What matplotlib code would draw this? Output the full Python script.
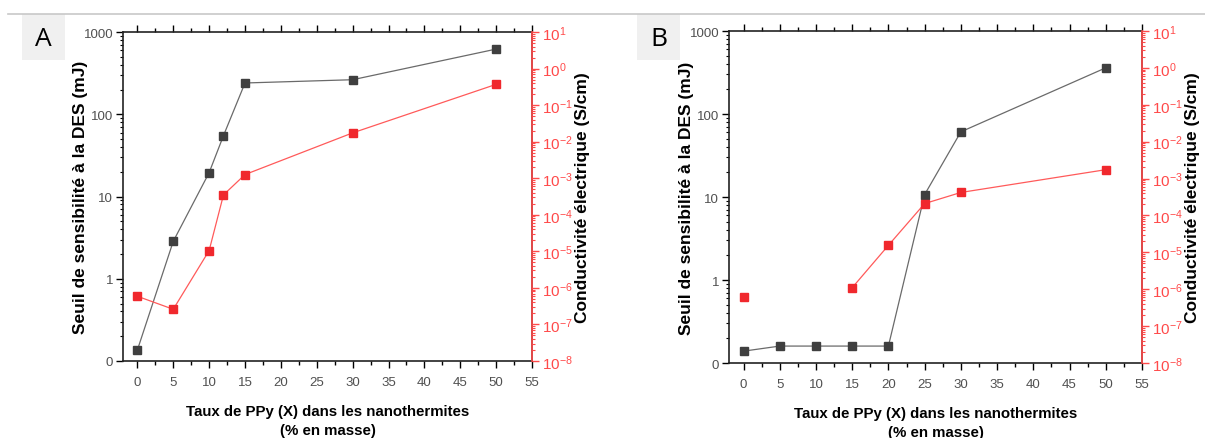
# DES sensitivity and conductivity vs PPy content, panels A and B

import numpy as np
import matplotlib
matplotlib.use('Agg')
import matplotlib.pyplot as plt
from matplotlib.lines import Line2D
from matplotlib.patches import Rectangle
from matplotlib.ticker import FixedLocator, LogLocator, MultipleLocator, NullFormatter

plt.rcParams['font.family'] = ['Liberation Sans', 'DejaVu Sans']
plt.rcParams['mathtext.default'] = 'regular'

# Data #
x_a = [0, 5, 10, 12, 15, 30, 50]
des_a = [0.136, 2.85, 19.5, 55, 240, 263, 620]
cond_a = [5.9e-7, 2.6e-7, 1.05e-5, 3.5e-4, 1.26e-3, 1.74e-2, 0.37]

x_b = [0, 5, 10, 15, 20, 25, 30, 50]
des_b = [0.139, 0.16, 0.16, 0.16, 0.16, 10.7, 61, 360]
cond_b = [6e-7, np.nan, np.nan, 1.1e-6, 1.55e-5, 2.1e-4, 4.2e-4, 1.74e-3]

left_ticks = [0.1, 1, 10, 100, 1000]
left_labels = ['0', '1', '10', '100', '1000']
x_ticks = list(range(0, 60, 5))

xlabel = "Taux de PPy (X) dans les nanothermites\n(% en masse)"
ylabel_left = "Seuil de sensibilité à la DES (mJ)"
ylabel_right = "Conductivité électrique (S/cm)"
# -------- #

GREY = '#3f3f3f'
RED = '#f0282d'
TICK_GREY = '#505050'


def draw_panel(ax, x, des, cond):
    ax.plot(x, des, color='#6a6a6a', lw=0.9, marker='s', ms=5.2,
            mfc=GREY, mec=GREY, zorder=3)
    ax.set_yscale('log')
    ax.set_ylim(0.1, 1000)
    ax.set_xlim(-2, 55)
    ax.yaxis.set_major_locator(FixedLocator(left_ticks))
    ax.set_yticklabels(left_labels)
    ax.yaxis.set_minor_locator(LogLocator(base=10, subs=np.arange(2, 10)))
    ax.yaxis.set_minor_formatter(NullFormatter())
    ax.xaxis.set_major_locator(FixedLocator(x_ticks))
    ax.xaxis.set_minor_locator(MultipleLocator(2.5))
    ax.tick_params(axis='x', which='both', bottom=True, top=True, direction='in',
                   labelsize=9.5, labelcolor=TICK_GREY, pad=6)
    ax.tick_params(axis='x', which='both', bottom=True, direction='out')
    ax.tick_params(axis='x', which='major', length=5, width=1)
    ax.tick_params(axis='x', which='minor', length=3, width=1)
    ax.tick_params(axis='y', which='major', direction='out', length=5, width=1,
                   labelsize=9.5, labelcolor=TICK_GREY, pad=2)
    ax.tick_params(axis='y', which='minor', direction='out', length=2.5, width=0.8)
    for s in ax.spines.values():
        s.set_linewidth(1.2)
        s.set_color('#222222')
    ax.set_xlabel(xlabel, fontsize=10.8, fontweight='bold', labelpad=11, linespacing=1.5)
    ax.set_ylabel(ylabel_left, fontsize=12.5, fontweight='bold', labelpad=-3)

    ax2 = ax.twinx()
    ax2.plot(x, cond, color='#ff5a5a', lw=0.9, marker='s', ms=5.2,
             mfc=RED, mec=RED, zorder=3)
    ax2.set_yscale('log')
    ax2.set_ylim(1e-8, 10)
    ax2.yaxis.set_major_locator(LogLocator(base=10, numticks=20))
    ax2.yaxis.set_minor_locator(LogLocator(base=10, subs=np.arange(2, 10), numticks=20))
    ax2.yaxis.set_minor_formatter(NullFormatter())
    ax2.tick_params(axis='y', which='major', direction='out', length=5, width=1,
                    colors='#ff4a4a', labelsize=11, pad=2)
    ax2.tick_params(axis='y', which='minor', direction='out', length=2.5, width=0.8,
                    colors='#ff4a4a')
    ax2.spines['right'].set_color('#ff4a4a')
    ax2.spines['right'].set_linewidth(1.2)
    for k in ['top', 'left', 'bottom']:
        ax2.spines[k].set_visible(False)
    ax2.set_ylabel(ylabel_right, fontsize=12.5, fontweight='bold', labelpad=2)
    return ax2


fig = plt.figure(figsize=(12.05, 4.39), dpi=100)
ax_a = fig.add_axes([0.1021, 0.1754, 0.3394, 0.7494])
ax_b = fig.add_axes([0.605, 0.1708, 0.3427, 0.7563])

draw_panel(ax_a, x_a, des_a, cond_a)
draw_panel(ax_b, x_b, des_b, cond_b)

# top grey rule and panel letters
fig.add_artist(Line2D([8 / 1205, 1], [1 - 15 / 439, 1 - 15 / 439],
                      color='#c8c8c8', lw=1.2))
for letter, x0 in [('A', 22), ('B', 637)]:
    fig.add_artist(Rectangle((x0 / 1205, 1 - 61 / 439), 43 / 1205, 46 / 439,
                             facecolor='#f0f0f0', edgecolor='none'))
    fig.text((x0 + 21.5) / 1205, 1 - 39 / 439, letter, fontsize=19,
             ha='center', va='center', family=['Open Sans', 'DejaVu Sans'])

plt.savefig('out.png', dpi=100)
